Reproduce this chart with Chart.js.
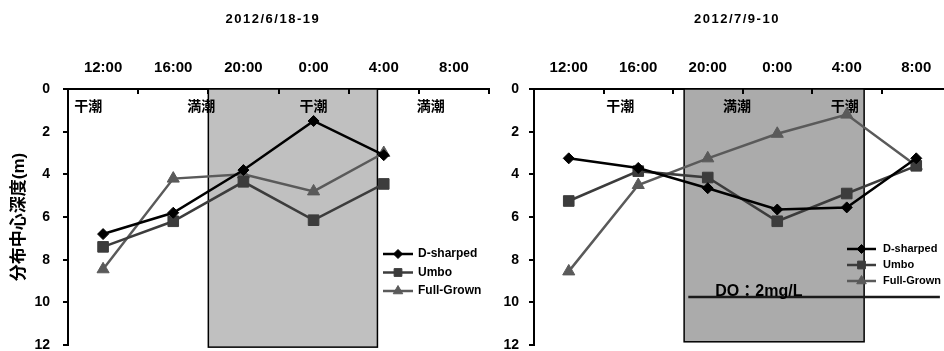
<!DOCTYPE html>
<html>
<head>
<meta charset="utf-8">
<script src="https://cdn.jsdelivr.net/npm/chart.js@4.4.1/dist/chart.umd.min.js"></script>
<style>
  html, body { margin: 0; padding: 0; background: #fff; }
  #wrap { position: relative; width: 944px; height: 351px; overflow: hidden; }
  #june { position: absolute; left: 0; top: 0; }
  #july { position: absolute; left: 490px; top: 0; }
</style>
</head>
<body>
<div id="wrap">
  <canvas id="july" width="461" height="351"></canvas>
  <canvas id="june" width="490" height="351"></canvas>
</div>
<script>
'use strict';

const timeLabels = ['12:00', '16:00', '20:00', '0:00', '4:00', '8:00'];
const seriesNames = ['D-sharped', 'Umbo', 'Full-Grown'];

// depth of distribution centre (m), 2012/6/18-19
const juneDSharped  = [6.8, 5.8, 3.8, 1.5, 3.1, null];
const juneUmbo      = [7.4, 6.2, 4.35, 6.15, 4.45, null];
const juneFullGrown = [8.45, 4.2, 4.0, 4.8, 3.0, null];

// 2012/7/9-10
const julyDSharped  = [3.25, 3.7, 4.65, 5.65, 5.55, 3.25];
const julyUmbo      = [5.25, 3.85, 4.15, 6.2, 4.9, 3.6];
const julyFullGrown = [8.55, 4.5, 3.25, 2.1, 1.2, 3.6];

// tide marks, position in category units
const juneTideNames = ['干潮', '満潮', '干潮', '満潮'];
const juneTideAt    = [-0.21, 1.4, 3.0, 4.67];
const julyTideNames = ['干潮', '満潮', '干潮'];
const julyTideAt    = [0.74, 2.42, 3.97];

// night period (category units)
const juneNight = [1.5, 3.91];
const julyNight = [1.66, 4.25];

// DO 2mg/L depth and its extent
const julyDODepth = 9.75;
const julyDOSpan  = [1.72, 5.34];

const depthTicks = [0, 2, 4, 6, 8, 10, 12];

const SERIES_STYLE = [
  { color: '#000000', point: 'rectRot',  radius: 5.5, legendRadius: 4.5 },
  { color: '#3c3c3c', point: 'rect',     radius: 7.5, legendRadius: 5.5 },
  { color: '#5a5a5a', point: 'triangle', radius: 7,   legendRadius: 5.5 },
];

const FONT_FAMILY = '"Liberation Sans", "Noto Sans CJK JP", sans-serif';

function _marker(ctx, style, radius, x, y, color) {
  ctx.fillStyle = color;
  ctx.strokeStyle = color;
  ctx.lineWidth = 1;
  if (Chart.helpers && Chart.helpers.drawPoint) {
    Chart.helpers.drawPoint(ctx, { pointStyle: style, radius, rotation: 0, borderWidth: 1 }, x, y);
  }
}

const panelDecor = {
  id: 'panelDecor',
  beforeDatasetsDraw(chart, args, opts) {
    const { ctx, chartArea: a, scales: { x, y } } = chart;
    ctx.save();

    // night shading
    const nx0 = x.getPixelForValue(opts.night[0]);
    const nx1 = x.getPixelForValue(opts.night[1]);
    const nyb = y.getPixelForValue(opts.nightBottom);
    ctx.fillStyle = opts.nightColor;
    ctx.fillRect(nx0, a.top, nx1 - nx0, nyb - a.top);
    ctx.strokeStyle = '#000';
    ctx.lineWidth = 1.5;
    ctx.strokeRect(nx0, a.top, nx1 - nx0, nyb - a.top);

    // inward tick marks on the top axis
    ctx.lineWidth = 2;
    for (let i = 1; i <= timeLabels.length; i++) {
      const px = Math.round(x.getPixelForValue(i - 0.5));
      ctx.beginPath();
      ctx.moveTo(px, a.top);
      ctx.lineTo(px, a.top + 5);
      ctx.stroke();
    }

    // tide labels
    ctx.fillStyle = '#000';
    ctx.font = 'bold 14px ' + FONT_FAMILY;
    ctx.textAlign = 'center';
    ctx.textBaseline = 'middle';
    opts.tideNames.forEach((t, i) => {
      ctx.fillText(t, x.getPixelForValue(opts.tideAt[i]), a.top + 18);
    });

    // date title
    ctx.font = 'bold 13px ' + FONT_FAMILY;
    ctx.letterSpacing = '1.5px';
    ctx.fillText(opts.title, x.getPixelForValue(opts.titleAt), 19);
    ctx.restore();
  },
  afterDatasetsDraw(chart, args, opts) {
    const { ctx, scales: { x, y } } = chart;
    ctx.save();

    // DO line
    if (opts.doDepth != null) {
      const py = y.getPixelForValue(opts.doDepth);
      const x0 = x.getPixelForValue(opts.doSpan[0]);
      const x1 = x.getPixelForValue(opts.doSpan[1]);
      ctx.strokeStyle = '#1a1a1a';
      ctx.lineWidth = 2.5;
      ctx.beginPath();
      ctx.moveTo(x0, py);
      ctx.lineTo(x1, py);
      ctx.stroke();
      ctx.fillStyle = '#000';
      ctx.font = 'bold 16px ' + FONT_FAMILY;
      ctx.textAlign = 'left';
      ctx.textBaseline = 'alphabetic';
      ctx.fillText('DO：2mg/L', x0 + 27, py - 1);
    }

    // legend
    const L = opts.legend;
    ctx.font = 'bold ' + L.fontSize + 'px ' + FONT_FAMILY;
    ctx.textAlign = 'left';
    ctx.textBaseline = 'middle';
    chart.data.datasets.forEach((ds, i) => {
      const st = SERIES_STYLE[i];
      const ly = L.y + i * L.gap;
      ctx.strokeStyle = ds.borderColor;
      ctx.lineWidth = 2.5;
      ctx.beginPath();
      ctx.moveTo(L.x, ly);
      ctx.lineTo(L.x + L.len, ly);
      ctx.stroke();
      _marker(ctx, st.point, st.legendRadius, L.x + L.len / 2, ly, ds.borderColor);
      ctx.fillStyle = '#000';
      ctx.fillText(ds.label, L.x + L.len + L.textGap, ly);
    });
    ctx.restore();
  },
};

function makeDatasets(values) {
  return values.map((v, i) => ({
    label: seriesNames[i],
    data: v,
    borderColor: SERIES_STYLE[i].color,
    backgroundColor: SERIES_STYLE[i].color,
    borderWidth: 2.5,
    pointStyle: SERIES_STYLE[i].point,
    pointRadius: SERIES_STYLE[i].radius,
    pointBorderWidth: 1,
    tension: 0,
    spanGaps: false,
    clip: false,
  }));
}

function makePanel(canvasId, values, decor, axis) {
  return new Chart(document.getElementById(canvasId), {
    type: 'line',
    data: { labels: timeLabels, datasets: makeDatasets(values) },
    plugins: [panelDecor],
    options: {
      responsive: false,
      animation: false,
      devicePixelRatio: 1,
      layout: {
        autoPadding: false,
        padding: { left: 0, right: axis.padRight, top: 0, bottom: 6 },
      },
      plugins: {
        legend: { display: false },
        tooltip: { enabled: false },
        panelDecor: decor,
      },
      scales: {
        x: {
          position: 'top',
          offset: true,
          afterFit: s => {
            s.height = 89;
            s.paddingLeft = 0;
            s.paddingRight = 0;
          },
          grid: { display: true, drawOnChartArea: false, drawTicks: false, offset: true },
          border: { color: '#000', width: 2 },
          ticks: {
            color: '#000',
            padding: 12,
            autoSkip: false,
            maxRotation: 0,
            font: { family: axis.xFamily, size: 15, weight: 'bold' },
          },
        },
        y: {
          min: 0,
          max: 12,
          reverse: true,
          afterFit: s => {
            s.width = axis.yWidth;
            s.paddingTop = 0;
            s.paddingBottom = 0;
          },
          afterBuildTicks: s => { s.ticks = depthTicks.map(v => ({ value: v })); },
          grid: { drawOnChartArea: false, drawTicks: true, tickLength: 5, color: '#000', lineWidth: 2 },
          border: { color: '#000', width: 2 },
          ticks: {
            color: '#000',
            padding: axis.yPad,
            font: { family: FONT_FAMILY, size: 14, weight: 'bold' },
          },
          title: {
            display: axis.yTitle !== '',
            text: axis.yTitle,
            color: '#000',
            padding: { top: 9, bottom: 0 },
            font: { family: FONT_FAMILY, size: 17, weight: 'bold' },
          },
        },
      },
    },
  });
}

makePanel('june', [juneDSharped, juneUmbo, juneFullGrown], {
  title: '2012/6/18-19',
  titleAt: 2.42,
  night: juneNight,
  nightBottom: 12.1,
  nightColor: '#c0c0c0',
  tideNames: juneTideNames,
  tideAt: juneTideAt,
  doDepth: null,
  legend: { x: 383, y: 254, gap: 18.5, len: 30, textGap: 5, fontSize: 12 },
}, { padRight: 1, yWidth: 68, yPad: 13, yTitle: '分布中心深度(m)', xFamily: FONT_FAMILY });

makePanel('july', [julyDSharped, julyUmbo, julyFullGrown], {
  title: '2012/7/9-10',
  titleAt: 2.42,
  night: julyNight,
  nightBottom: 11.85,
  nightColor: '#ababab',
  tideNames: julyTideNames,
  tideAt: julyTideAt,
  doDepth: julyDODepth,
  doSpan: julyDOSpan,
  legend: { x: 357, y: 249, gap: 16, len: 29, textGap: 7, fontSize: 11 },
}, { padRight: 0, yWidth: 44, yPad: 10, yTitle: '', xFamily: '"Liberation Sans Narrow", ' + FONT_FAMILY });
</script>
</body>
</html>
